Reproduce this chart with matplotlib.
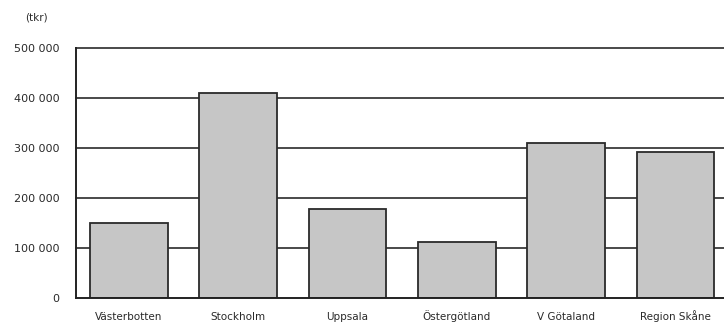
import matplotlib.pyplot as plt

regions = ["Västerbotten", "Stockholm", "Uppsala", "Östergötland", "V Götaland", "Region Skåne"]
amounts = [150000, 410000, 178000, 112000, 310000, 292000]
yticks = [0, 100000, 200000, 300000, 400000, 500000]
ytick_labels = ["0", "100 000", "200 000", "300 000", "400 000", "500 000"]

fig = plt.figure(figsize=(7.24, 3.25), dpi=100)
ax = fig.add_axes([76/724, 27/325, 654/724, 250/325])

x = range(len(regions))
for y in yticks[1:]:
    ax.axhline(y, color="#2a2a2a", lw=1.2, zorder=1, clip_on=False)
ax.bar(x, amounts, width=0.71, color="#c6c6c6", edgecolor="#2a2a2a", lw=1.3, zorder=2)

ax.set_xlim(-0.485, 5.5)
ax.set_ylim(0, 500000)
ax.set_xticks(list(x))
ax.set_xticklabels(regions, fontsize=7.5, color="#2a2a2a", va="baseline")
ax.set_yticks(yticks)
ax.set_yticklabels(ytick_labels, fontsize=8, color="#2a2a2a")
ax.tick_params(length=0)
ax.tick_params(axis="y", pad=12)
ax.tick_params(axis="x", pad=16)

for s in ["top", "right"]:
    ax.spines[s].set_visible(False)
ax.spines["left"].set_linewidth(1.4)
ax.spines["bottom"].set_linewidth(1.4)
ax.spines["left"].set_color("#222222")
ax.spines["bottom"].set_color("#222222")

fig.text(36/724, 1 - 18/325, "(tkr)", fontsize=7.5, ha="center", va="center", color="#2a2a2a")

fig.savefig("out.png", dpi=100)
